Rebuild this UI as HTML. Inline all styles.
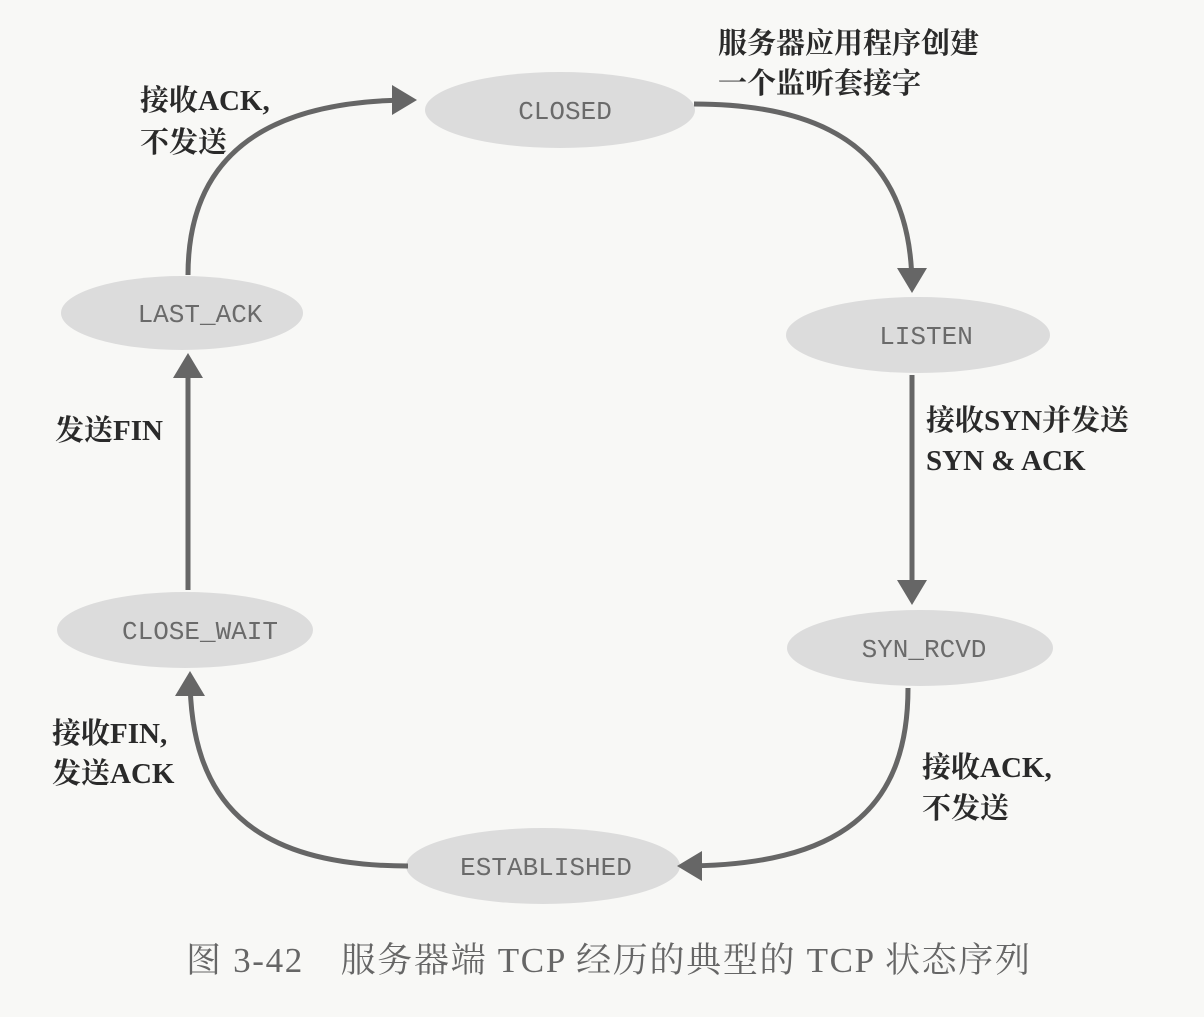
<!DOCTYPE html>
<html><head><meta charset="utf-8"><style>
body{margin:0;background:#f8f8f6;}
svg{display:block}
.s{font-family:"Liberation Mono",monospace;font-size:26px;fill:#6a6a6a;text-anchor:middle}
.l{font-family:"Liberation Serif","Noto Serif CJK SC",serif;font-size:29px;fill:#2a2a2a;font-weight:bold}
</style></head><body>
<svg width="1204" height="1017" viewBox="0 0 1204 1017">
<defs><marker id="a" markerWidth="6" markerHeight="6" refX="4" refY="3" orient="auto" markerUnits="strokeWidth"><path d="M0,0 L5,3 L0,6 z" fill="#666"/></marker></defs>
<g fill="#dcdcdc">
<ellipse cx="560" cy="110" rx="135" ry="38"/>
<ellipse cx="918" cy="335" rx="132" ry="38"/>
<ellipse cx="920" cy="648" rx="133" ry="38"/>
<ellipse cx="543" cy="866" rx="137" ry="38"/>
<ellipse cx="185" cy="630" rx="128" ry="38"/>
<ellipse cx="182" cy="313" rx="121" ry="37"/>
</g>
<text class="s" x="565" y="119">CLOSED</text>
<text class="s" x="926" y="344">LISTEN</text>
<text class="s" x="924" y="657">SYN_RCVD</text>
<text class="s" x="546" y="875">ESTABLISHED</text>
<text class="s" x="200" y="639">CLOSE_WAIT</text>
<text class="s" x="200" y="322">LAST_ACK</text>
<g stroke="#666" stroke-width="5" fill="none" marker-end="url(#a)">
<path d="M694,104 C850,104 912,170 912,288"/>
<path d="M912,375 L912,600"/>
<path d="M908,688 C908,810 840,866 682,866"/>
<path d="M408,866 C250,866 190,800 190,676"/>
<path d="M188,590 L188,358"/>
<path d="M188,275 C188,160 260,100 412,100"/>
</g>
<text class="l" x="718" y="53">服务器应用程序创建</text>
<text class="l" x="718" y="93">一个监听套接字</text>
<text class="l" x="140" y="110">接收ACK,</text>
<text class="l" x="140" y="152">不发送</text>
<text class="l" x="926" y="430">接收SYN并发送</text>
<text class="l" x="926" y="470">SYN &amp; ACK</text>
<text class="l" x="55" y="440">发送FIN</text>
<text class="l" x="52" y="743">接收FIN,</text>
<text class="l" x="52" y="783">发送ACK</text>
<text class="l" x="922" y="777">接收ACK,</text>
<text class="l" x="922" y="818">不发送</text>
<text x="186" y="972" textLength="844" style="font-family:'Liberation Serif','Noto Serif CJK SC',serif;font-size:35px;fill:#666">图 3-42　服务器端 TCP 经历的典型的 TCP 状态序列</text>
</svg>
</body></html>
